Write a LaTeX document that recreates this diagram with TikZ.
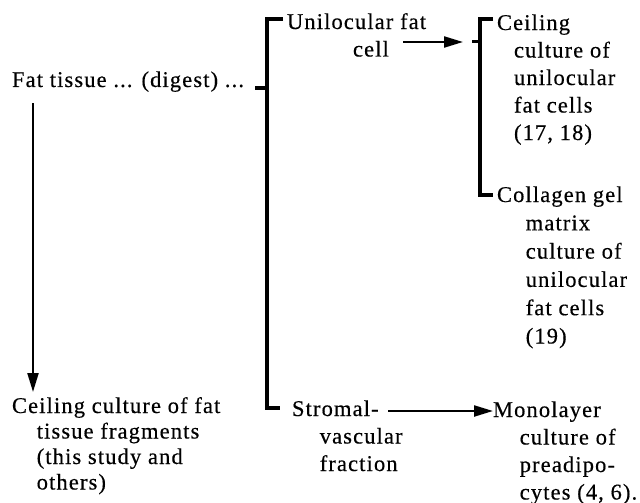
\documentclass[tikz,border=0pt]{standalone}
\usepackage{fontspec}
\setmainfont{Liberation Serif}[LetterSpace=5,FakeBold=0.4]
\usetikzlibrary{arrows.meta,calc}
\newcommand\hin[1][17pt]{\hspace*{#1}}
\begin{document}
\begin{tikzpicture}[x=1pt,y=-1pt,
  txt/.style={inner sep=0pt, outer sep=0pt, align=left, anchor=north west,
    yshift=19.25pt, font=\fontsize{22.5}{27.5}\selectfont},
  txtb/.style={txt, yshift=-1.4pt, font=\fontsize{22.5}{25.5}\selectfont},
  brk/.style={line width=3.6pt, line cap=butt, line join=miter},
  tick/.style={line width=3pt},
  arr/.style={line width=2.2pt, -{Triangle[length=19pt,width=11pt]}}]
\useasboundingbox (0,0) rectangle (640,503);

% text nodes (positions = baseline of first line)
\node[txt] (fat) at (12,87) {\strut Fat tissue ... (digest) ...};
\node[txt] (uni) at (287,29) {\strut Unilocular fat\\\hspace*{66pt}cell};
\node[txt] (ceil1) at (497,30) {\strut Ceiling\\\hin culture of\\\hin unilocular\\\hin fat cells\\\hin (17, 18)};
\node[txt, font=\fontsize{22.5}{28.3}\selectfont, yshift=0.56pt] (coll) at (497,202) {\strut Collagen gel\\\hin[22pt] matrix\\\hin[22pt] culture of\\\hin[22pt] unilocular\\\hin[22pt] fat cells\\\hin[22pt] (19)};
\node[txtb] (ceil2) at (12,413) {\strut Ceiling culture of fat\\\hin[18pt] tissue fragments\\\hin[18pt] (this study and\\\hin[18pt] others)};
\node[txt] (strom) at (292,416) {\strut Stromal-\\\hin[21pt] vascular\\\hin[21pt] fraction};
\node[txt] (mono) at (493,417) {\strut Monolayer\\\hin[20pt] culture of\\\hin[20pt] preadipo-\\\hin[20pt] cytes (4, 6).};

% coordinates
\coordinate (b1top) at (267,19);
\coordinate (b1bot) at (267,408);
\coordinate (b1mid) at (267,88);
\coordinate (b1in) at (255,88);
\coordinate (b2top) at (480,19);
\coordinate (b2bot) at (480,195);
\coordinate (b2mid) at (480,42);
\coordinate (b2in) at (472,42);
\coordinate (a1s) at (33,103);
\coordinate (a2s) at (403,42);
\coordinate (a3s) at (388,411);

% bracket 1
\draw[brk] ($(b1top)+(16,0)$) -- (b1top) -- (b1bot) -- ($(b1bot)+(13,0)$);
\draw[tick] (b1in) -- (b1mid);
% bracket 2
\draw[brk] ($(b2top)+(13,0)$) -- (b2top) -- (b2bot) -- ($(b2bot)+(13,0)$);
\draw[tick] (b2in) -- (b2mid);

% arrows
\draw[arr] (a1s) -- (33,392);
\draw[arr] (a2s) -- ($(b2in)+(-9,0)$);
\draw[arr] (a3s) -- (a3s -| mono.west);
\end{tikzpicture}
\end{document}
